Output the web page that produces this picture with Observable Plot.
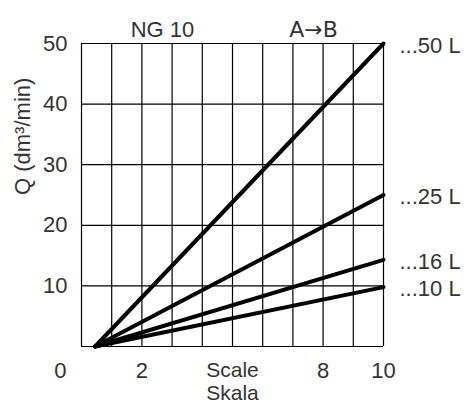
<!DOCTYPE html>
<html><head><meta charset="utf-8">
<script src="https://cdn.jsdelivr.net/npm/d3@7"></script>
<script src="https://cdn.jsdelivr.net/npm/@observablehq/plot@0.6"></script>
<style>
body{margin:0;background:#fff;}
svg{font-family:"Liberation Sans",Arial,sans-serif;}
</style></head>
<body><div id="chart"></div>
<script>
const series = ["...50 L", "...25 L", "...16 L", "...10 L"];
const startScale = 0.45;
const endScale = 10;
const endFlow = [50, 25, 14.3, 9.8];
const yTicks = [10, 20, 30, 40, 50];
const xTicks = [2, 8, 10];
const gridX = [0,1,2,3,4,5,6,7,8,9,10];

const lines = series.flatMap((s, i) => [
  {s, x: startScale, y: 0},
  {s, x: endScale, y: endFlow[i]}
]);
const ends = series.map((s, i) => ({s, x: endScale, y: endFlow[i]}));

const fs = 22;
const col = "#333";
const chart = Plot.plot({
  width: 469, height: 410,
  marginLeft: 81, marginRight: 86, marginTop: 43, marginBottom: 64,
  x: {domain: [0, 10], axis: null},
  y: {domain: [0, 50], axis: null},
  style: {color: col, overflow: "visible"},
  marks: [
    Plot.ruleX(gridX, {stroke: "#000", strokeWidth: 1.2}),
    Plot.ruleY([0, ...yTicks], {stroke: "#000", strokeWidth: 1.2}),
    Plot.line(lines, {x: "x", y: "y", z: "s", stroke: "#000", strokeWidth: 4}),
    Plot.text(yTicks, {x: 0, y: d => d, text: d => String(d), textAnchor: "end", dx: -14, fontSize: fs, fill: col}),
    Plot.text(xTicks, {x: d => d, y: 0, text: d => String(d), dy: 24, fontSize: fs, fill: col}),
    Plot.text(["0"], {x: -0.7, y: 0, text: d => d, dy: 24, fontSize: fs, fill: col}),
    Plot.text(["Scale"], {x: 5, y: 0, text: d => d, dy: 24, fontSize: 21, fill: col}),
    Plot.text(["Skala"], {x: 5, y: 0, text: d => d, dy: 47, fontSize: 21, fill: col}),
    Plot.text(ends, {x: "x", y: "y", text: "s", textAnchor: "start", dx: 16, dy: 2, fontSize: fs, fill: col}),
    Plot.text(["Q (dm³/min)"], {frameAnchor: "left", text: d => d, rotate: -90, dx: -59, fontSize: fs, fill: col}),
    Plot.text(["NG 10"], {x: 2.68, frameAnchor: "top", text: d => d, dy: -22, fontSize: fs, fill: col}),
    Plot.text(["A→B"], {x: 7.68, frameAnchor: "top", text: d => d, dy: -22, fontSize: 22, fontFamily: "DejaVu Sans", fill: col})
  ]
});
document.getElementById("chart").append(chart);
</script>
</body></html>
